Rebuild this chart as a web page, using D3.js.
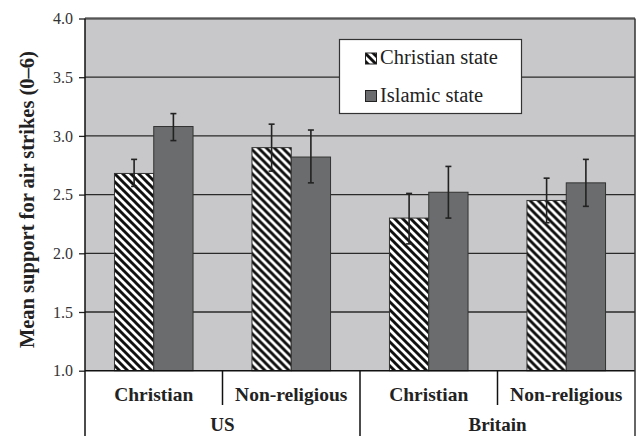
<!DOCTYPE html>
<html><head><meta charset="utf-8">
<script src="https://cdn.jsdelivr.net/npm/d3@7"></script>
<style>body{margin:0;background:#fff;}svg{display:block;}</style>
</head><body>
<svg id="chart" width="637" height="436"></svg>
<script>
const countries = ["US", "Britain"];
const groups = ["Christian", "Non-religious"];
const seriesNames = ["Christian state", "Islamic state"];
// means, in order: US-Christian, US-Non-religious, Britain-Christian, Britain-Non-religious
const christianState = [2.68, 2.90, 2.30, 2.45];
const islamicState = [3.08, 2.82, 2.52, 2.60];
const christianLow = [2.57, 2.70, 2.08, 2.26];
const christianHigh = [2.80, 3.10, 2.51, 2.64];
const islamicLow = [2.96, 2.60, 2.30, 2.40];
const islamicHigh = [3.19, 3.05, 2.74, 2.80];
const yTicks = [1.0, 1.5, 2.0, 2.5, 3.0, 3.5, 4.0];
const yTitle = "Mean support for air strikes (0–6)";

const FONT = "'Liberation Serif', 'DejaVu Serif', serif";
const svg = d3.select("#chart");
const L = 85, R = 635, T = 18.5, B = 370.7;
const cats = [];
countries.forEach(c => groups.forEach(g => cats.push(c + "|" + g)));
const x = d3.scaleBand().domain(cats).range([L, R]).padding(0);
const y = d3.scaleLinear().domain([1, 4]).range([B, T]);
const sub = d3.scaleBand().domain(seriesNames).range([0, x.bandwidth()]).paddingInner(0).paddingOuter(0.75);

const defs = svg.append("defs");
const pat = defs.append("pattern").attr("id", "hatch").attr("patternUnits", "userSpaceOnUse")
  .attr("width", 8).attr("height", 8);
pat.append("rect").attr("width", 8).attr("height", 8).attr("fill", "#fff");
pat.append("path").attr("d", "M-1,-1L9,9M-1,7L1,9M7,-1L9,1").attr("stroke", "#111").attr("stroke-width", 2.9);

// plot background
svg.append("rect").attr("x", L).attr("y", T).attr("width", R - L).attr("height", B - T).attr("fill", "#c8c8ca");

// gridlines
svg.append("g").selectAll("line").data(yTicks.slice(1)).join("line")
  .attr("x1", L).attr("x2", R).attr("y1", d => y(d)).attr("y2", d => y(d))
  .attr("stroke", "#2a2a2a").attr("stroke-width", 1.3);
svg.append("line").attr("x1", L).attr("x2", R).attr("y1", y(4)).attr("y2", y(4))
  .attr("stroke", "#555").attr("stroke-width", 2);

// y axis
const yAxis = d3.axisLeft(y).tickValues(yTicks).tickFormat(d3.format(".1f")).tickSize(6).tickPadding(6);
const ga = svg.append("g").attr("transform", `translate(${L},0)`).call(yAxis)
  .style("font-family", FONT).style("font-size", "16px");
ga.select(".domain").remove();
ga.selectAll(".tick line").attr("stroke", "#222").attr("stroke-width", 1.3);
ga.selectAll(".tick text").style("font-family", FONT).style("font-size", "16px").attr("fill", "#333");

// bars
const rows = cats.map((c, i) => ({cat: c, vals: [
  {s: seriesNames[0], v: christianState[i], lo: christianLow[i], hi: christianHigh[i]},
  {s: seriesNames[1], v: islamicState[i], lo: islamicLow[i], hi: islamicHigh[i]}]}));
const gg = svg.append("g").selectAll("g").data(rows).join("g")
  .attr("transform", d => `translate(${x(d.cat)},0)`);
gg.selectAll("rect").data(d => d.vals).join("rect")
  .attr("x", d => sub(d.s)).attr("width", sub.bandwidth())
  .attr("y", d => y(d.v)).attr("height", d => y(1) - y(d.v))
  .attr("fill", d => d.s === seriesNames[0] ? "url(#hatch)" : "#6b6c6e")
  .attr("stroke", "#333").attr("stroke-width", 1);
const eb = gg.selectAll("g.eb").data(d => d.vals).join("g").attr("class", "eb")
  .attr("stroke", "#222").attr("stroke-width", 1.6);
eb.append("line").attr("x1", d => sub(d.s) + sub.bandwidth() / 2).attr("x2", d => sub(d.s) + sub.bandwidth() / 2)
  .attr("y1", d => y(d.lo)).attr("y2", d => y(d.hi));
eb.append("line").attr("x1", d => sub(d.s) + sub.bandwidth() / 2 - 3).attr("x2", d => sub(d.s) + sub.bandwidth() / 2 + 3)
  .attr("y1", d => y(d.hi)).attr("y2", d => y(d.hi));
eb.append("line").attr("x1", d => sub(d.s) + sub.bandwidth() / 2 - 3).attr("x2", d => sub(d.s) + sub.bandwidth() / 2 + 3)
  .attr("y1", d => y(d.lo)).attr("y2", d => y(d.lo));

// axes frame lines
svg.append("line").attr("x1", L).attr("x2", R).attr("y1", B).attr("y2", B).attr("stroke", "#111").attr("stroke-width", 1.5);
svg.append("line").attr("x1", L).attr("x2", L).attr("y1", T).attr("y2", 436).attr("stroke", "#111").attr("stroke-width", 1.5);
svg.append("line").attr("x1", R).attr("x2", R).attr("y1", T).attr("y2", 436).attr("stroke", "#333").attr("stroke-width", 1.5);

// category dividers
const cw = x.bandwidth();
countries.forEach((c, ci) => {
  const x0 = x(c + "|" + groups[0]);
  svg.append("line").attr("x1", x0 + cw).attr("x2", x0 + cw).attr("y1", B).attr("y2", 405).attr("stroke", "#111").attr("stroke-width", 1.5);
  if (ci > 0) svg.append("line").attr("x1", x0).attr("x2", x0).attr("y1", B).attr("y2", 436).attr("stroke", "#111").attr("stroke-width", 1.5);
});

function boldText(sel, size) {
  return sel.style("font-family", FONT).style("font-weight", "bold").style("font-size", size + "px").attr("fill", "#222");
}

boldText(svg.append("g").selectAll("text").data(cats).join("text")
  .attr("x", d => x(d) + cw / 2).attr("y", 400.5).attr("text-anchor", "middle")
  .text(d => d.split("|")[1]), 19.5);
boldText(svg.append("g").selectAll("text").data(countries).join("text")
  .attr("x", d => x(d + "|" + groups[0]) + cw).attr("y", 431).attr("text-anchor", "middle")
  .text(d => d), 19);

// y title
boldText(svg.append("text").attr("transform", `translate(34,${(T + B) / 2 + 5}) rotate(-90)`)
  .attr("text-anchor", "middle").text(yTitle), 20.5);

// legend
const lg = svg.append("g");
lg.append("rect").attr("x", 339.5).attr("y", 39.5).attr("width", 182).attr("height", 74)
  .attr("fill", "#fff").attr("stroke", "#333").attr("stroke-width", 1.2);
const lgY = [64, 101.5];
seriesNames.forEach((s, i) => {
  lg.append("rect").attr("x", 365.5).attr("y", lgY[i] - 11).attr("width", 11).attr("height", 11)
    .attr("fill", i === 0 ? "url(#hatch)" : "#6b6c6e").attr("stroke", "#222").attr("stroke-width", 1);
  lg.append("text").attr("x", 380).attr("y", lgY[i]).text(s)
    .style("font-family", FONT).style("font-size", "20.5px").attr("fill", "#222");
});
</script>
</body></html>
